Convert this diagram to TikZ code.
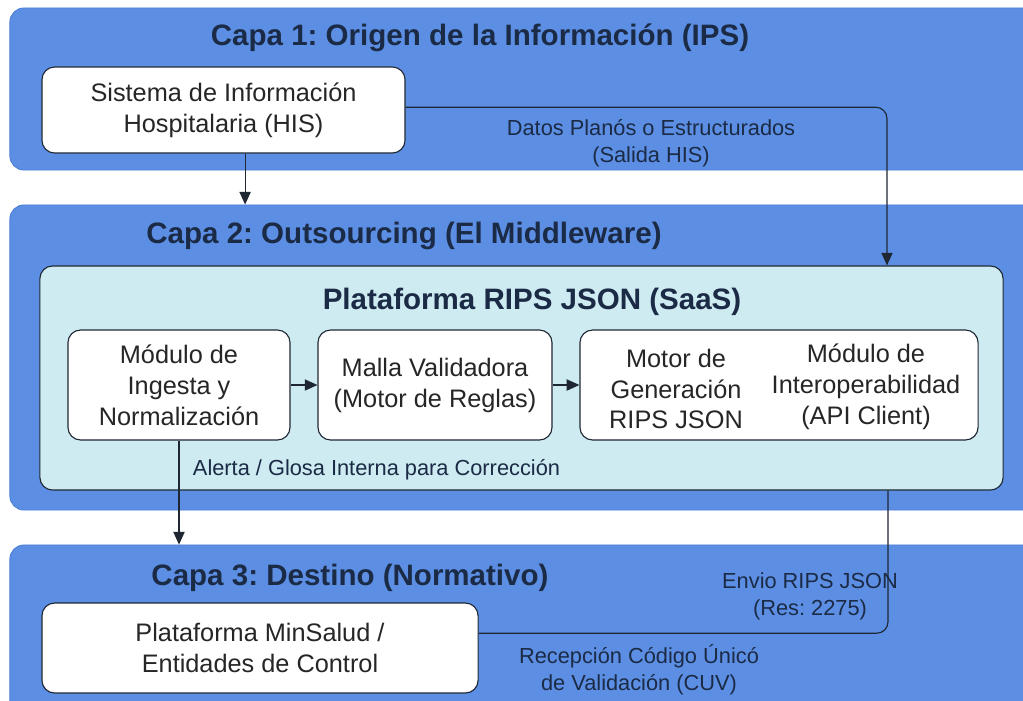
\documentclass[tikz,border=0pt]{standalone}
\usepackage{fontspec}
\setmainfont{Liberation Sans}
\frenchspacing
\usetikzlibrary{arrows.meta, positioning}
\definecolor{layerblue}{HTML}{5C8FE4}
\definecolor{layeredge}{HTML}{4C7ED6}
\definecolor{panelcyan}{HTML}{CDEBF1}
\definecolor{inkdark}{HTML}{1F2733}
\definecolor{titlenavy}{HTML}{1B2A45}
\tikzset{
    layer/.style={draw=layeredge, fill=layerblue, rounded corners=10pt, line width=0.6pt},
    panel/.style={draw=inkdark, fill=panelcyan, rounded corners=9pt, line width=0.8pt},
    box/.style={draw=inkdark, fill=white, rounded corners=9pt, line width=0.8pt, align=center,
        text=black!85, font=\fontsize{18}{22}\selectfont},
    ttl/.style={text=titlenavy, font=\bfseries\fontsize{21}{25}\selectfont},
    lbl/.style={text=titlenavy, align=center, font=\fontsize{15.5}{19}\selectfont},
    txt/.style={text=black!85, align=center, font=\fontsize{18}{22}\selectfont},
    arr/.style={draw=inkdark, line width=0.8pt, -{Triangle[length=9pt,width=8pt]}},
    link/.style={draw=inkdark, line width=0.8pt}
}

\begin{document}
\begin{tikzpicture}[x=0.025cm, y=-0.025cm]

    \useasboundingbox (0,0) rectangle (1023,700);
    \fill[white] (0,0) rectangle (1023,700);
    \clip (0,0) rectangle (1023,700);

    % layers
    \node[layer, minimum width=26cm, minimum height=4.05cm] (capa1) at (530,89) {};
    \node[layer, minimum width=26cm, minimum height=7.625cm] (capa2) at (530,357.5) {};
    \node[layer, minimum width=26cm, minimum height=4.875cm] (capa3) at (530,642.5) {};

    \node[ttl] (t1) at (480,38) {Capa 1: Origen de la Información (IPS)};
    \node[ttl] (t2) at (404,236) {Capa 2: Outsourcing (El Middleware)};
    \node[ttl] (t3) at (350,578) {Capa 3: Destino (Normativo)};

    % capa 1
    \node[box, minimum width=9.075cm, minimum height=2.15cm] (his) at (223.5,110)
        {Sistema de Información\\Hospitalaria (HIS)};
    \node[lbl] (datos) at (651,143) {Datos Planós o Estructurados\\(Salida HIS)};

    % capa 2
    \node[panel, minimum width=24.075cm, minimum height=5.6cm] (saas) at (521.5,378) {};
    \node[ttl] (tsaas) at (532,302) {Plataforma RIPS JSON (SaaS)};
    \node[box, minimum width=5.55cm, minimum height=2.75cm] (ingesta) at (179,385)
        {Módulo de\\Ingesta y\\Normalización};
    \node[box, minimum width=5.85cm, minimum height=2.75cm] (malla) at (435,385)
        {Malla Validadora\\(Motor de Reglas)};
    \node[box, minimum width=9.95cm, minimum height=2.75cm] (motor) at (779,385) {};
    \node[txt] (gen) at (676,389) {Motor de\\Generación\\RIPS JSON};
    \node[txt] (api) at (866,387) {Módulo de\\Interoperabilidad\\(API Client)};
    \node[lbl, anchor=west] (alerta) at (188,470) {Alerta / Glosa Interna para Corrección};

    % capa 3
    \node[box, minimum width=10.9cm, minimum height=2.25cm] (minsalud) at (260,648)
        {Plataforma MinSalud /\\Entidades de Control};
    \node[lbl] (envio) at (810,596) {Envio RIPS JSON\\(Res: 2275)};
    \node[lbl] (cuv) at (639,670) {Recepción Código Únicó\\de Validación (CUV)};

    % connectors
    \coordinate (hisout) at ([xshift=0.54cm]his.south);
    \coordinate (saasin) at (887,0);
    \coordinate (saasout) at (888,0);
    \draw[arr] (hisout) -- (hisout |- capa2.north);
    \draw[arr, rounded corners=8pt] ([yshift=0.07cm]his.east) -| (saasin |- saas.north);
    \draw[arr] (ingesta) -- (malla);
    \draw[arr] (malla) -- (motor);
    \draw[arr] (ingesta.south) -- (ingesta.south |- capa3.north);
    \draw[link, rounded corners=8pt] (saasout |- saas.south) |- ([yshift=0.37cm]minsalud.east);
\end{tikzpicture}
\end{document}
